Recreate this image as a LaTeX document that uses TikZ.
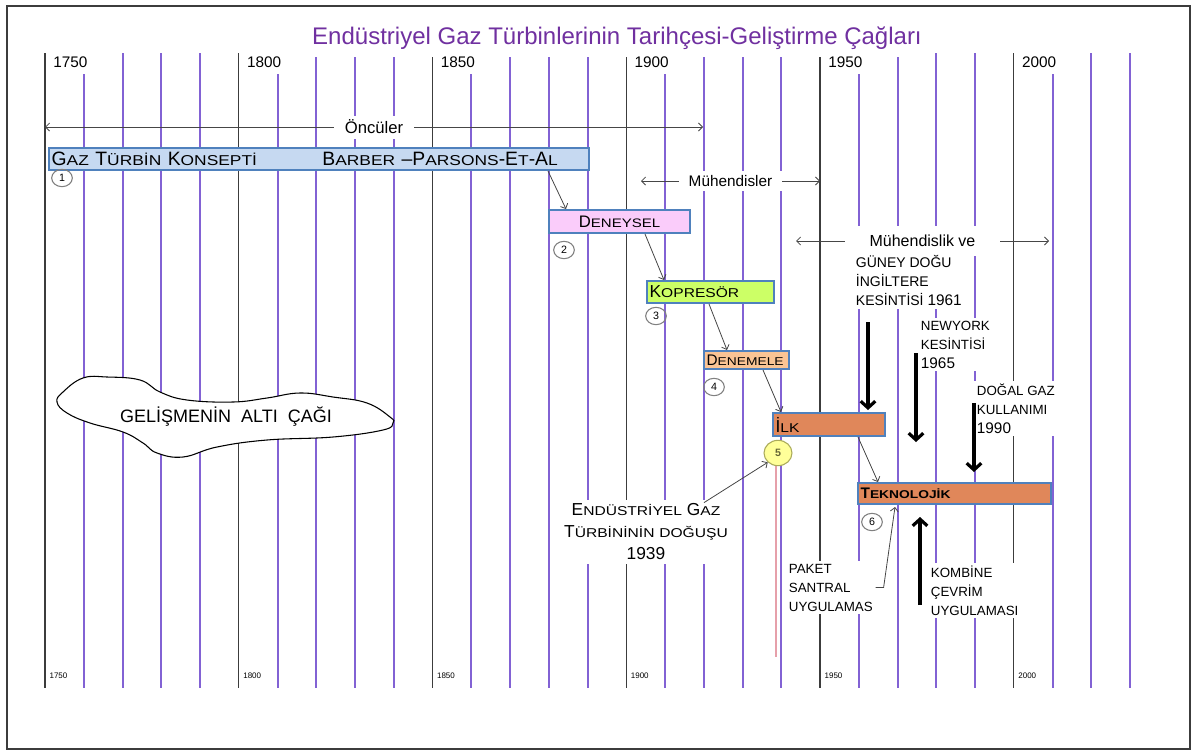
\documentclass[tikz,border=0pt]{standalone}
\usepackage{fontspec}
\setmainfont{Liberation Sans}
\usetikzlibrary{calc,arrows.meta,shapes.geometric}

\definecolor{onyilmor}{RGB}{130,98,212}
\definecolor{yilgri}{RGB}{60,60,60}
\definecolor{baslikmor}{RGB}{112,48,160}
\definecolor{kenarmavi}{RGB}{79,129,189}
\definecolor{konseptmavi}{RGB}{198,217,241}
\definecolor{deneyselpembe}{RGB}{250,204,250}
\definecolor{kompresoryesil}{RGB}{204,255,102}
\definecolor{denemeturuncu}{RGB}{250,196,148}
\definecolor{ilkturuncu}{RGB}{224,135,90}
\definecolor{dogumsari}{RGB}{255,255,153}
\definecolor{dogumkenar}{RGB}{170,170,90}
\definecolor{okgri}{RGB}{70,70,70}
\definecolor{dogumpembe}{RGB}{230,160,170}

\newcommand\yazi[2]{\fontsize{#1}{#2}\selectfont}
% ilk harf tam boy, kalani kucuk
\newcommand\sk[2]{#1\scalebox{0.9}[0.74]{#2}}

\tikzset{
  onyil/.style={draw=onyilmor, line width=1.5pt},
  ellilik/.style={draw=yilgri, line width=1pt},
  yil/.style={anchor=west, fill=white, inner xsep=4.5pt, inner ysep=0pt, minimum height=18pt, font=\yazi{11.5}{13}},
  altyil/.style={anchor=west, inner sep=1pt, font=\yazi{6}{7}},
  bar/.style={draw=kenarmavi, line width=1.5pt, anchor=north west, inner xsep=2pt, inner ysep=0pt, align=left},
  ok/.style={draw=okgri, line width=0.6pt, -{Straight Barb[length=3pt,width=6pt]}},
  aralik/.style={draw=okgri, line width=0.6pt, {Straight Barb[length=3pt,width=6pt]}-{Straight Barb[length=3pt,width=6pt]}},
  kalin/.style={draw=black, line width=2.4pt, -{Straight Barb[length=5pt,width=11pt]}},
  sira/.style={ellipse, draw=gray, line width=0.8pt, inner sep=0pt, minimum width=15.5pt, minimum height=13pt, font=\yazi{8}{9}},
  notkutu/.style={fill=white, align=left, inner sep=2pt, anchor=north west, font=\yazi{10}{14.25}},
}

\begin{document}
\begin{tikzpicture}[x=0.75pt,y=-0.75pt]
\useasboundingbox (0,0) rectangle (1197,754);
\draw[draw=yilgri, line width=1.2pt] (7,6) rectangle (1190,749);

\foreach \i in {0,...,28}{
  \pgfmathsetmacro\gx{45+38.75*\i}
  \pgfmathtruncatemacro\kalan{mod(\i,5)}
  \ifnum\kalan=0 \draw[ellilik] (\gx,53) -- (\gx,688); \else \draw[onyil] (\gx,53) -- (\gx,688); \fi
}
\node[fill=white, text=baslikmor, font=\yazi{18}{20}, inner xsep=6pt, minimum height=28pt] (baslik) at (617,38) {Endüstriyel Gaz Türbinlerinin Tarihçesi-Geliştirme Çağları};
\foreach \yr [count=\k from 0] in {1750,1800,...,2000}{
  \node[yil] (ust\yr) at ({47+193.75*\k},62) {\yr};
  \node[altyil] (alt\yr) at ({48+193.75*\k},676) {\yr};
}

\coordinate (oncu1) at (45,127);
\coordinate (oncu2) at (703,127);
\draw[aralik] (oncu1) -- node[fill=white, inner xsep=8pt, font=\yazi{12.5}{14}] (oncu) {Öncüler} (oncu2);
\coordinate (muh1) at (641,181);
\coordinate (muh2) at (820,181);
\draw[aralik] (muh1) -- node[fill=white, inner xsep=7pt, font=\yazi{11.5}{13}] (muh) {Mühendisler} (muh2);
\coordinate (muhtek1) at (796,241);
\coordinate (muhtek2) at (1049,241);
\draw[aralik] (muhtek1) -- node[fill=white, minimum width=116pt, minimum height=22pt, font=\yazi{12}{14}] (muhtek) {Mühendislik ve} (muhtek2);

\draw[line width=0.8pt, fill=white] plot[smooth cycle, tension=0.7] coordinates {(83,378) (107,377) (140,380) (160,392) (187,400) (233,402) (267,398) (300,393) (333,397) (367,403) (390,417) (393,423) (383,430) (333,437) (267,440) (217,447) (183,457) (157,453) (143,443) (123,432) (90,423) (67,413) (57,402) (63,392)};
\node[font=\yazi{13.5}{16}] (cag) at (226,417) {GELİŞMENİN\ \ ALTI\ \ ÇAĞI};

\node[bar, fill=konseptmavi, text width=401pt, minimum height=16.5pt, font=\yazi{14.5}{16}] (konsept) at (48,147) {\sk{G}{AZ} \sk{T}{ÜRBİN} \sk{K}{ONSEPTİ}\hspace{49pt}\sk{B}{ARBER} –\sk{P}{ARSONS}-\sk{E}{T}-\sk{A}{L}};
\node[bar, fill=deneyselpembe, text width=101.75pt, minimum height=17.25pt, align=center, font=\yazi{12.5}{14}] (deneysel) at (548,209) {\sk{D}{ENEYSEL}};
\node[bar, fill=kompresoryesil, text width=91.25pt, minimum height=16.5pt, font=\yazi{13}{15}] (kopresor) at (646,280) {\sk{K}{OPRESÖR}};
\node[bar, fill=denemeturuncu, text width=59.75pt, minimum height=13.5pt, font=\yazi{11.5}{13}] (denemele) at (703,350) {\sk{D}{ENEMELE}};
\node[bar, fill=ilkturuncu, text width=80pt, minimum height=17.25pt, font=\yazi{13}{15}] (ilk) at (772,412) {\sk{İ}{LK}};
\node[bar, fill=ilkturuncu, text width=140.75pt, minimum height=15.75pt, font=\yazi{11.5}{13}\bfseries] (tekno) at (857,482) {\sk{T}{EKNOLOJİK}};

\node[sira] (s1) at (62,178) {1};
\node[sira] (s2) at (564,250) {2};
\node[sira] (s3) at (656,316) {3};
\node[sira] (s4) at (714,387) {4};
\node[sira] (s6) at (872,522) {6};
\draw[dogumpembe, line width=1.5pt] (776,465) -- (776,657);
\node[sira, fill=dogumsari, draw=dogumkenar, minimum width=21pt, minimum height=19pt, text=dogumkenar!60!black, font=\yazi{8}{9}\bfseries] (s5) at (778,453) {5};

\draw[ok] ($(konsept.south west)+(500,0)$) -- ($(deneysel.north west)+(18,0)$);
\draw[ok] ($(deneysel.south west)+(97,0)$) -- ($(kopresor.north west)+(18,0)$);
\draw[ok] ($(kopresor.south west)+(63,0)$) -- ($(denemele.north west)+(24,0)$);
\draw[ok] ($(denemele.south west)+(60,0)$) -- ($(ilk.north west)+(9,0)$);
\draw[ok] ($(ilk.south west)+(86,0)$) -- ($(tekno.north west)+(21,0)$);

\node[fill=white, align=center, inner sep=3pt, font=\yazi{13}{16.5}] (dogus) at (646,532) {\sk{E}{NDÜSTRİYEL} \sk{G}{AZ}\\\sk{T}{ÜRBİNİNİN} \scalebox{0.9}[0.74]{DOĞUŞU}\\1939};
\draw[ok] ($(dogus.north)+(58,3)$) -- (s5.south west);

\node[notkutu, font=\yazi{10.5}{14.5}] (guney) at (853,252) {GÜNEY DOĞU\\İNGİLTERE\\KESİNTİSİ {\yazi{11.5}{14.5}1961}};
\node[notkutu] (newyork) at (918,318) {NEWYORK\\KESİNTİSİ\\{\yazi{11.5}{14.25}1965}};
\node[notkutu] (dogal) at (974,381) {DOĞAL GAZ\\KULLANIMI\\{\yazi{11.5}{14.25}1990}};
\node[notkutu] (paket) at (786,561) {PAKET\\SANTRAL\\UYGULAMAS};
\node[notkutu] (kombine) at (928,563) {KOMBİNE\\ÇEVRİM\\UYGULAMASI};

\draw[kalin] ($(ilk.north east)+(-18,-90)$) -- ($(ilk.north east)+(-18,-2)$);
\draw[kalin] ($(tekno.north west)+(59,-129)$) -- ($(tekno.north west)+(59,-40)$);
\draw[kalin] ($(tekno.north west)+(117,-79)$) -- ($(tekno.north west)+(117,-10)$);
\draw[kalin] ($(tekno.south west)+(63,100)$) -- ($(tekno.south west)+(63,12)$);
\draw[ok] (paket.east) -- ++(8,0) -- ($(tekno.south west)+(38,2)$);
\end{tikzpicture}
\end{document}
